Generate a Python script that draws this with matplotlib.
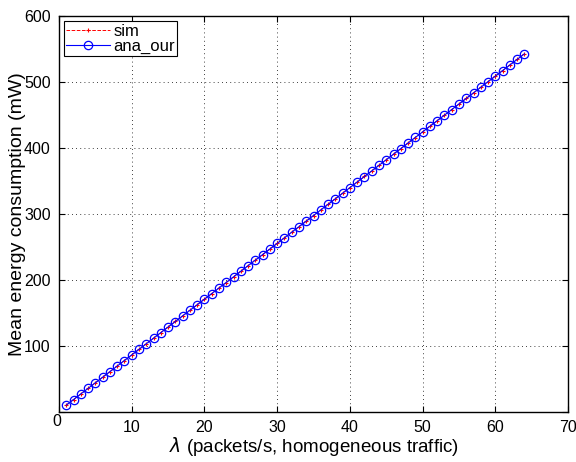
import matplotlib
matplotlib.use("Agg")
import matplotlib.pyplot as plt
import numpy as np

plt.rcParams['font.family'] = ['Liberation Sans', 'DejaVu Sans']

# arrival rate (packets/s)
lam = list(range(1, 65))

# analytical mean energy consumption (mW)
ana_our = [10.6, 19.0, 27.5, 35.9, 44.4, 52.8, 61.3, 69.7, 78.2, 86.6,
           95.1, 103.5, 112.0, 120.4, 128.9, 137.3, 145.8, 154.2, 162.7, 171.1,
           179.6, 188.0, 196.5, 204.9, 213.4, 221.8, 230.3, 238.7, 247.2, 255.6,
           264.1, 272.5, 281.0, 289.4, 297.9, 306.3, 314.8, 323.2, 331.7, 340.1,
           348.6, 357.0, 365.5, 373.9, 382.4, 390.8, 399.3, 407.7, 416.2, 424.6,
           433.1, 441.5, 450.0, 458.4, 466.9, 475.3, 483.8, 492.2, 500.7, 509.1,
           517.6, 526.0, 534.5, 542.9]

# simulated mean energy consumption (mW)
sim = [10.5, 19.1, 27.4, 35.9, 44.3, 52.9, 61.2, 69.8, 78.1, 86.7,
       95.0, 103.6, 111.9, 120.5, 128.8, 137.4, 145.7, 154.3, 162.6, 171.2,
       179.5, 188.1, 196.4, 205.0, 213.3, 221.9, 230.2, 238.8, 247.1, 255.7,
       264.0, 272.6, 280.9, 289.5, 297.8, 306.4, 314.7, 323.3, 331.6, 340.2,
       348.5, 357.1, 365.4, 374.0, 382.3, 390.9, 399.2, 407.8, 416.1, 424.7,
       433.0, 441.6, 449.9, 458.5, 466.8, 475.4, 483.7, 492.3, 500.6, 509.2,
       517.5, 526.1, 534.4, 543.0]

xticks = [0, 10, 20, 30, 40, 50, 60, 70]
yticks = [0, 100, 200, 300, 400, 500, 600]

fig = plt.figure(figsize=(5.76, 4.62), dpi=100)
ax = fig.add_axes([0.1024, 0.108, 0.8838, 0.857])

ax.plot(lam, sim, color='red', linestyle='--', marker='+', markersize=3,
        markeredgewidth=0.8, linewidth=0.7, label='sim')
ax.plot(lam, ana_our, color='blue', linestyle='-', marker='o', markersize=6,
        markerfacecolor='none', markeredgewidth=0.9, linewidth=0.8,
        label='ana_our')

ax.set_xlim(0, 70)
ax.set_ylim(0, 600)
ax.set_xticks(xticks)
ax.set_yticks(yticks)
ax.set_xticklabels([''] + [str(t) for t in xticks[1:]])
ax.set_yticklabels([''] + [str(t) for t in yticks[1:]])
ax.text(-0.005, -0.023, '0', transform=ax.transAxes, ha='center', va='center',
        fontsize=11.5)

ax.tick_params(direction='in', top=True, right=True, length=4, width=0.8,
               labelsize=11.5, pad=6)
ax.grid(True, color='black', linestyle=(0, (1, 4)), linewidth=0.6)
for s in ax.spines.values():
    s.set_linewidth(1.0)

ax.set_xlabel(r'$\lambda$ (packets/s, homogeneous traffic)', fontsize=13.5,
              va='center')
ax.set_ylabel('Mean energy consumption (mW)', fontsize=14, va='center')
ax.xaxis.set_label_coords(0.5, -0.088)
ax.yaxis.set_label_coords(-0.082, 0.5)

leg = ax.legend(loc='upper left', fontsize=12, fancybox=False,
                edgecolor='black', framealpha=1, borderaxespad=0.3,
                handlelength=2.6, borderpad=0.15, labelspacing=0.0,
                handletextpad=0.2)
leg.get_frame().set_linewidth(0.8)

fig.savefig('out.png', dpi=100)
